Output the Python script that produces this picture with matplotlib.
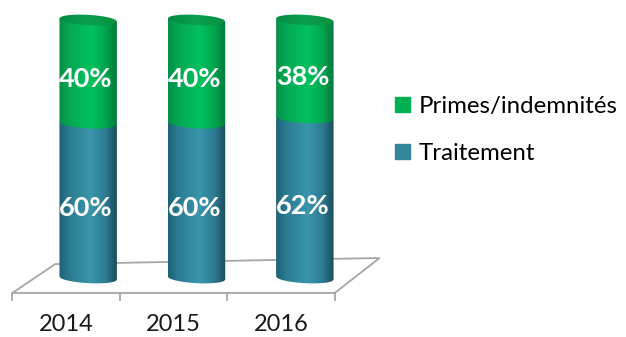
import numpy as np
import matplotlib.pyplot as plt
from matplotlib.path import Path
from matplotlib.patches import PathPatch, Patch, Polygon
from matplotlib.colors import LinearSegmentedColormap

years = ['2014', '2015', '2016']
traitement = [60, 60, 62]
primes = [40, 40, 38]
series = [('Traitement', traitement), ('Primes/indemnités', primes)]

teal = '#31849b'
green = '#00b050'

shades = {
    'Traitement': LinearSegmentedColormap.from_list(
        'teal', [(0, '#1d6276'), (0.18, '#2b7c92'), (0.55, '#3a95ad'),
                 (0.8, '#2d7c92'), (1, '#1a4c5c')]),
    'Primes/indemnités': LinearSegmentedColormap.from_list(
        'green', [(0, '#078f47'), (0.18, '#04a854'), (0.55, '#00c25e'),
                  (0.8, '#00a64f'), (1, '#00783a')]),
}
cap_shade = LinearSegmentedColormap.from_list(
    'cap', [(0, '#068a44'), (0.5, '#0aa04f'), (1, '#08903f')])

plt.rcParams['font.family'] = ['Lato', 'DejaVu Sans']

fig = plt.figure(figsize=(6.26, 3.37), dpi=100)
# y = 0 sits at 278 px from the top, 2.58 px per percent; 5 % margin each side
ax = fig.add_axes([34 / 626, 1 - 290.9 / 337, 325 / 626, 283.8 / 337])

half_w = 0.265   # cylinder radius, x units
b = 2.0          # ellipse half height, y units
tilt = 0.6       # slight perspective tilt of the ellipses
grad = np.linspace(0, 1, 200).reshape(1, -1)


def arc(xc, yc, upper=False, n=60):
    t = np.linspace(-1, 1, n)
    y = yc - tilt * t + (b if upper else -b) * np.sqrt(1 - t ** 2)
    return np.column_stack([xc + half_w * t, y])


def shaded(verts, cmap, xc, y0, y1, z):
    patch = PathPatch(Path(np.vstack([verts, verts[:1]]), closed=True),
                      facecolor='none', edgecolor='none', zorder=z)
    ax.add_patch(patch)
    im = ax.imshow(grad, cmap=cmap, aspect='auto', interpolation='bilinear',
                   extent=(xc - half_w, xc + half_w, y0 - b - 2, y1 + b + 2),
                   zorder=z)
    im.set_clip_path(patch)


for i in range(len(years)):
    bottom = 0
    for k, (name, vals) in enumerate(series):
        top = bottom + vals[i]
        lower = arc(i, bottom)
        upper = np.array([[i + half_w, top - tilt], [i - half_w, top + tilt]])
        shaded(np.vstack([lower, upper]), shades[name], i, bottom, top, 2 + k)
        ax.text(i - 0.02, bottom + vals[i] / 2 - 3, f'{vals[i]}%',
                ha='center', va='center', color='white', fontsize=19.5,
                fontweight='bold', zorder=10)
        bottom = top
    # top cap
    cap = np.vstack([arc(i, bottom), arc(i, bottom, upper=True)[::-1]])
    shaded(cap, cap_shade, i, bottom, bottom, 5)

# floor of the 3D plot area
floor_x = [-0.70, -0.304, 2.69, 2.276]
floor_y = [-5.8, 5.4, 7.75, -5.8]
ax.add_patch(Polygon(np.column_stack([floor_x, floor_y]), closed=True,
                     facecolor='white', edgecolor='#a6a6a6', lw=1.3,
                     clip_on=False, zorder=1))
edges = np.linspace(floor_x[0], floor_x[3], len(years) + 1)
for e in edges:
    ax.plot([e, e], [-5.8, -8.6], color='#a6a6a6', lw=1.3, clip_on=False,
            zorder=1)
for i, yr in enumerate(years):
    ax.text((edges[i] + edges[i + 1]) / 2, -18.2, yr, ha='center',
            va='center', fontsize=17, color='#1a1a1a', clip_on=False)

ax.set_xlim(-0.5, 2.5)
ax.set_ylim(-5, 105)
ax.axis('off')

handles = [Patch(color=green, label='Primes/indemnités'),
           Patch(color=teal, label='Traitement')]
fig.legend(handles=handles, loc='center left',
           bbox_to_anchor=(395 / 626, 1 - 130 / 337), frameon=False,
           fontsize=17.3, handlelength=0.62, handleheight=0.62,
           handletextpad=0.35, labelspacing=1.07, borderpad=0,
           borderaxespad=0)

fig.savefig('out.png', dpi=100)
